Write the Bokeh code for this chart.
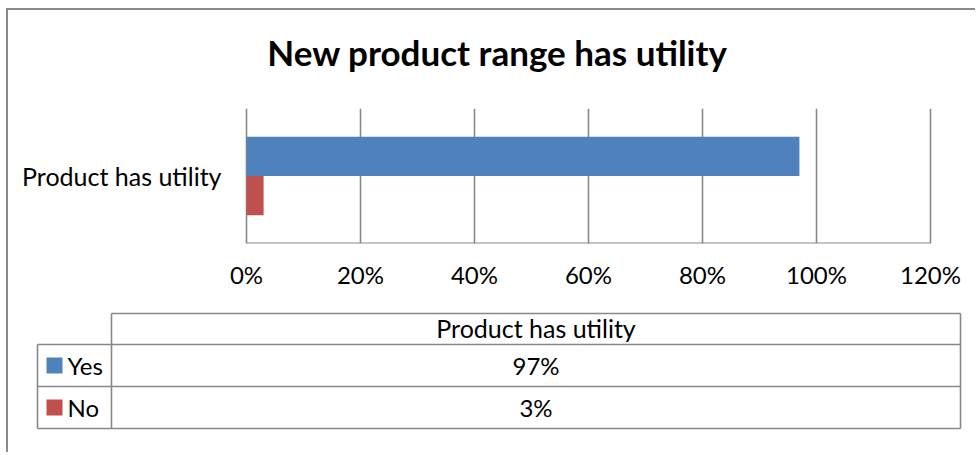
from bokeh.plotting import figure
from bokeh.models import ColumnDataSource, Range1d, FactorRange, FixedTicker
from bokeh.transform import dodge
from bokeh.layouts import column
from bokeh.core.properties import value
from bokeh.embed import file_html
from bokeh.resources import INLINE

# ---- data ----
categories = ["Product has utility"]
series_names = ["Yes", "No"]
yes_values = [0.97]
no_values = [0.03]
series_colors = ["#4F81BD", "#C0504D"]
tick_values = [0.0, 0.2, 0.4, 0.6, 0.8, 1.0, 1.2]
tick_labels = ["0%", "20%", "40%", "60%", "80%", "100%", "120%"]
chart_title = "New product range has utility"

FONT = "Lato"
GRID = "#878787"

# ---- layout (pixels) ----
W = 967            # figure width
HT = 98            # title strip height
HA = 192           # chart figure height
HB = 152           # table figure height
PLOT_L, PLOT_R = 238, 922      # plot area left/right inside figure
X0, X1 = tick_values[0], tick_values[-1]
px_per_unit = (PLOT_R - PLOT_L) / (X1 - X0)
x_start = X0 - PLOT_L / px_per_unit
x_end = X1 + (W - PLOT_R) / px_per_unit

# ---- title strip ----
tt = figure(width=W, height=HT, output_backend="svg", toolbar_location=None,
            x_range=Range1d(0, W), y_range=Range1d(HT, 0),
            x_axis_location=None, y_axis_location=None, title_location=None,
            min_border=0, min_border_left=0, min_border_right=0)
tt.outline_line_color = None
tt.grid.visible = False
tt.background_fill_color = "white"
tt.border_fill_color = "white"
tt.text(x=[489], y=[41], text=[chart_title], text_font=value(FONT),
        text_font_style="bold", text_font_size="35px", text_align="center",
        text_baseline="alphabetic", text_color="black")

# ---- chart figure ----
p = figure(width=W, height=HA, output_backend="svg", toolbar_location=None,
           x_range=Range1d(x_start, x_end), y_range=FactorRange(factors=categories),
           y_axis_location=None, title_location=None,
           min_border_left=0, min_border_right=0, min_border_top=0,
           min_border_bottom=57)
p.outline_line_color = None
p.background_fill_color = "white"
p.border_fill_color = "white"

src = ColumnDataSource(dict(cat=categories, yes=yes_values, no=no_values,
                            zero=[X0], top=[X1]))
p.hbar(y=dodge("cat", 0.145, range=p.y_range), left="zero", right="yes", height=0.29,
       source=src, fill_color=series_colors[0], line_color=None)
p.hbar(y=dodge("cat", -0.145, range=p.y_range), left="zero", right="no", height=0.29,
       source=src, fill_color=series_colors[1], line_color=None)

# bottom axis line across the plot area only
p.segment(x0="zero", x1="top", y0=dodge("cat", -0.5, range=p.y_range),
          y1=dodge("cat", -0.5, range=p.y_range), source=src,
          line_color=GRID, line_width=2)

# category label
p.text(x="zero", y="cat", text="cat", source=src, x_offset=-25,
       text_font=value(FONT), text_font_size="25px", text_align="right",
       text_baseline="middle", text_color="black")

# x axis
xa = p.xaxis[0]
xa.ticker = FixedTicker(ticks=tick_values)
xa.major_label_overrides = {v: l for v, l in zip(tick_values, tick_labels)}
xa.major_tick_out = 0
xa.major_tick_in = 0
xa.minor_tick_out = 0
xa.minor_tick_in = 0
xa.axis_line_color = None
xa.major_label_text_font = FONT
xa.major_label_text_font_size = "24px"
xa.major_label_text_color = "black"
xa.major_label_standoff = 16

p.xgrid.grid_line_color = GRID
p.xgrid.grid_line_width = 1.6
p.xgrid.ticker = FixedTicker(ticks=tick_values)
p.ygrid.grid_line_color = None

# ---- data table figure ----
t = figure(width=W, height=HB, output_backend="svg", toolbar_location=None,
           x_range=Range1d(0, W), y_range=Range1d(HB, 0),
           x_axis_location=None, y_axis_location=None, title_location=None,
           min_border=0, min_border_left=0, min_border_right=0)
t.outline_line_color = None
t.grid.visible = False
t.background_fill_color = "white"
t.border_fill_color = "white"

x_left, x_mid, x_right = 29, 103, 952
y_head_top, y_head_bot, row_h = 13, 44, 42
rows_y = [y_head_bot + i * row_h for i in range(len(series_names) + 1)]

t.segment(x0=[x_mid], y0=[y_head_top], x1=[x_right], y1=[y_head_top],
          line_color=GRID, line_width=1.6)
t.segment(x0=[x_left] * len(rows_y), y0=rows_y, x1=[x_right] * len(rows_y), y1=rows_y,
          line_color=GRID, line_width=1.6)
t.segment(x0=[x_left, x_mid, x_right], y0=[y_head_bot, y_head_top, y_head_top],
          x1=[x_left, x_mid, x_right], y1=[rows_y[-1]] * 3,
          line_color=GRID, line_width=1.6)

t.text(x=[(x_mid + x_right) / 2], y=[(y_head_top + y_head_bot) / 2 - 1], text=categories,
       text_font=value(FONT), text_font_size="25px", text_align="center",
       text_baseline="middle", text_color="black")

all_vals = [yes_values, no_values]
centers = [(rows_y[i] + rows_y[i + 1]) / 2 for i in range(len(series_names))]
t.rect(x=[46] * len(series_names), y=centers, width=16, height=16,
       fill_color=series_colors, line_color=None)
t.text(x=[59] * len(series_names), y=centers, text=series_names,
       text_font=value(FONT), text_font_size="24px", text_align="left",
       text_baseline="middle", text_color="black")
t.text(x=[(x_mid + x_right) / 2] * len(series_names), y=centers,
       text=[f"{round(v[0] * 100)}%" for v in all_vals],
       text_font=value(FONT), text_font_size="24px", text_align="center",
       text_baseline="middle", text_color="black")

layout = column(tt, p, t, spacing=0,
                styles={"border-left": "2px solid #8a8a8a",
                        "border-top": "2px solid #8a8a8a",
                        "margin-left": "6px", "margin-top": "8px"})

open("out.html", "w").write(file_html(layout, INLINE))
